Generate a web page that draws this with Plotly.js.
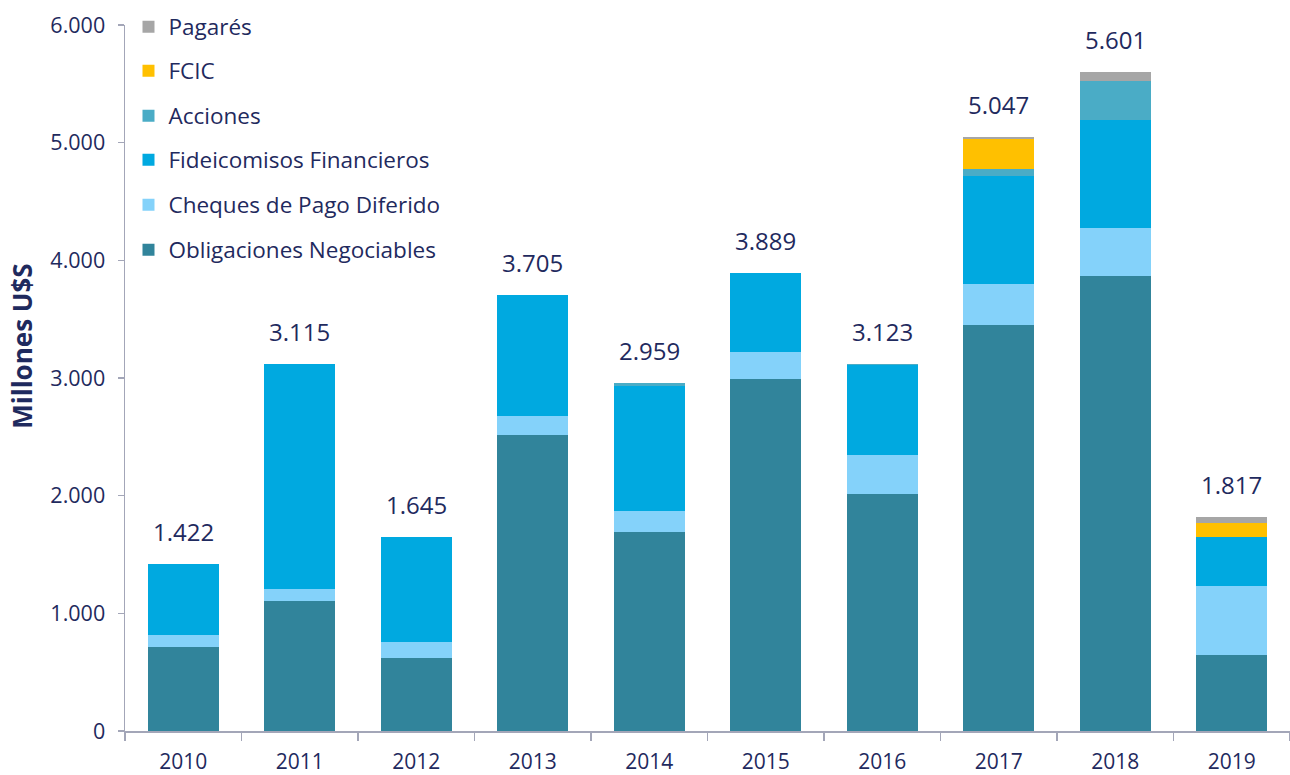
<!DOCTYPE html>
<html>
<head>
<meta charset="utf-8">
<script src="https://cdn.plot.ly/plotly-3.0.1.min.js"></script>
<style>html,body{margin:0;padding:0;background:#fff;}#chart{width:1290px;height:775px;}</style>
</head>
<body>
<div id="chart"></div>
<script>
const years = ['2010','2011','2012','2013','2014','2015','2016','2017','2018','2019'];
const obligaciones = [714, 1108, 618, 2516, 1692, 2989, 2012, 3451, 3868, 646];
const cheques      = [100,   96, 141,  162,  181,  233,  337,  346,  405, 584];
const fideicomisos = [608, 1911, 886, 1027, 1062,  667,  765,  923,  921, 422];
const acciones     = [0,      0,   0,    0,   20,    0,    4,   54,  334,   0];
const fcic         = [0,      0,   0,    0,    0,    0,    0,  258,    0, 113];
const pagares      = [0,      0,   0,    0,    4,    0,    5,   15,   73,  52];
const totals       = [1422, 3115, 1645, 3705, 2959, 3889, 3123, 5047, 5601, 1817];

const navy = '#1f2a5e';
const fontFam = '"Open Sans", "Noto Sans", sans-serif';

const series = [
  {name: 'Obligaciones Negociables', y: obligaciones, color: '#31849b', legend: 'legend6'},
  {name: 'Cheques de Pago Diferido', y: cheques, color: '#84d2fa', legend: 'legend5'},
  {name: 'Fideicomisos Financieros', y: fideicomisos, color: '#00a9e0', legend: 'legend4'},
  {name: 'Acciones', y: acciones, color: '#4aacc6', legend: 'legend3'},
  {name: 'FCIC', y: fcic, color: '#ffc000', legend: 'legend2'},
  {name: 'Pagarés', y: pagares, color: '#a6a6a6', legend: 'legend'}
];

const traces = series.map(s => ({
  type: 'bar', x: years, y: s.y, name: s.name, legend: s.legend,
  marker: {color: s.color, line: {width: 0}},
  hoverinfo: 'x+y+name'
}));

function fmt(n){ return String(n).replace(/\B(?=(\d{3})+(?!\d))/g, '.'); }

const annotations = years.map((yr, i) => ({
  x: i, y: totals[i], xref: 'x', yref: 'y', text: fmt(totals[i]),
  showarrow: false, yanchor: 'bottom', yshift: 14,
  font: {family: fontFam, size: 24, color: navy}
}));
annotations.push({
  xref: 'paper', yref: 'paper', x: -0.088, y: 0.545, text: '<b>Millones U$S</b>',
  textangle: -90, showarrow: false, xanchor: 'center', yanchor: 'middle',
  font: {family: fontFam, size: 26, color: navy}
});

const legendYs = [27, 71, 116, 160, 205, 250];
const plotTop = 25, plotBottom = 731;
function legendCfg(py){
  return {
    x: 0.003, xanchor: 'left', y: (plotBottom - py) / (plotBottom - plotTop), yanchor: 'middle',
    bgcolor: 'rgba(0,0,0,0)', font: {family: fontFam, size: 22.5, color: navy},
    itemclick: false, itemdoubleclick: false
  };
}

const layout = {
  width: 1290, height: 775,
  margin: {l: 125, r: 0, t: 25, b: 44},
  paper_bgcolor: '#ffffff', plot_bgcolor: '#ffffff',
  barmode: 'stack', bargap: 0.39,
  separators: ',.',
  font: {family: fontFam, color: navy},
  showlegend: true,
  legend: legendCfg(legendYs[0]),
  legend2: legendCfg(legendYs[1]),
  legend3: legendCfg(legendYs[2]),
  legend4: legendCfg(legendYs[3]),
  legend5: legendCfg(legendYs[4]),
  legend6: legendCfg(legendYs[5]),
  xaxis: {
    type: 'category', range: [-0.5, 9.5], showline: true, linecolor: '#a3a6b8', linewidth: 1.5,
    ticks: 'outside', tickson: 'boundaries', ticklen: 8, tickcolor: '#a3a6b8', tickwidth: 1.5,
    tickfont: {family: fontFam, size: 21, color: navy}, showgrid: false, zeroline: false,
    ticklabelstandoff: 11
  },
  yaxis: {
    range: [0, 6000], tickvals: [0, 1000, 2000, 3000, 4000, 5000, 6000], tickformat: ',d',
    showline: true, linecolor: '#a3a6b8', linewidth: 1.5,
    ticks: 'outside', ticklen: 6, tickcolor: '#a3a6b8', tickwidth: 1.5,
    tickfont: {family: fontFam, size: 21.5, color: navy}, showgrid: false, zeroline: false,
    ticklabelstandoff: 8
  },
  annotations: annotations
};

Plotly.newPlot('chart', traces, layout, {displayModeBar: false, staticPlot: true});
</script>
</body>
</html>
